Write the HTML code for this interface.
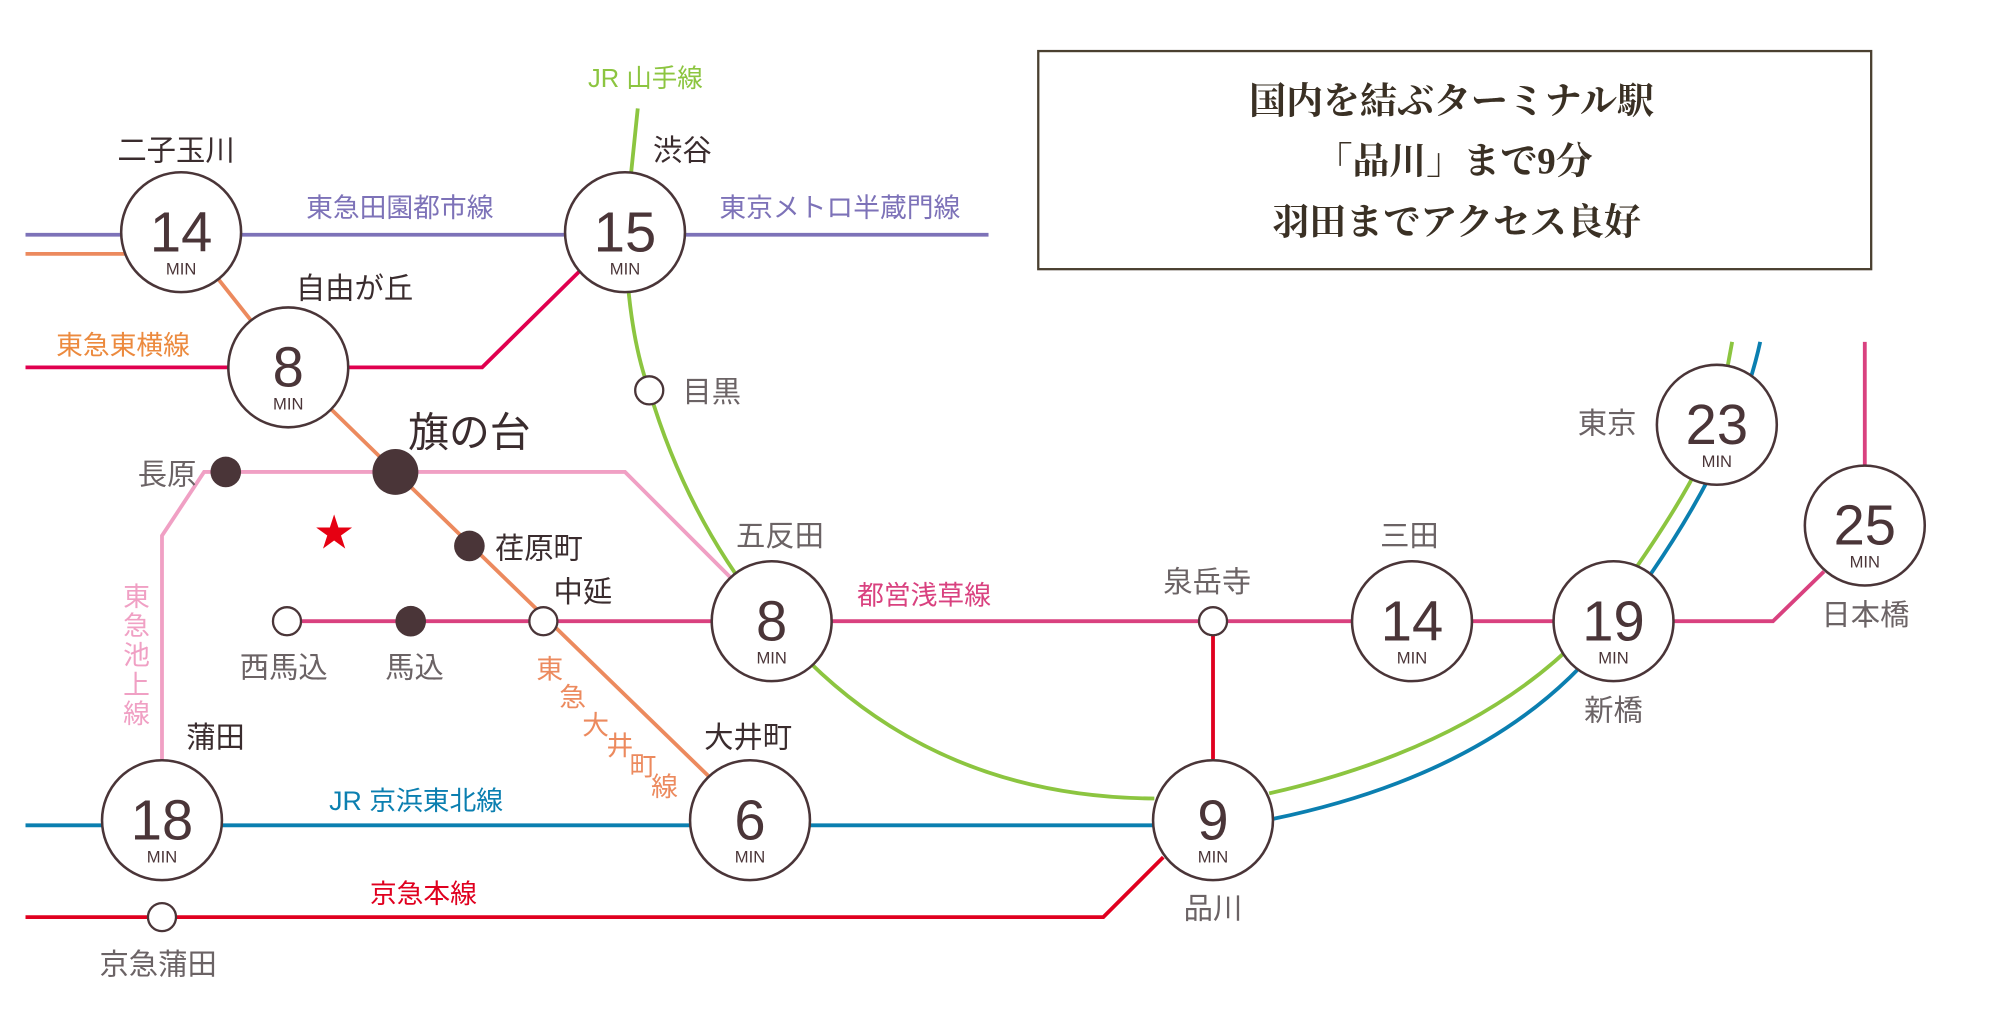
<!DOCTYPE html>
<html><head><meta charset="utf-8"><style>
html,body{margin:0;padding:0;background:#fff;}
svg{display:block;}
text{font-family:"Liberation Sans","Noto Sans CJK JP",sans-serif;}
.st{font-size:23px;fill:#6b6365;}
.sd{font-size:23px;fill:#3a2c2e;}
.num{font-size:44px;fill:#4a3538;text-anchor:middle;font-family:"Liberation Sans Narrow","Liberation Sans",sans-serif;}
.min{font-size:13px;fill:#4a3538;text-anchor:middle;}
.bc{fill:#fff;stroke:#4a3538;stroke-width:2;}
.oc{fill:#fff;stroke:#4a3538;stroke-width:1.8;}
.fc{fill:#4a3538;}
</style></head><body>
<svg width="2000" height="1034" viewBox="0 0 1568 810.6" xmlns="http://www.w3.org/2000/svg">
<g fill="none" stroke-width="3">
<path d="M20 184 H775" stroke="#7d72b8"/>
<path d="M20 199 H110" stroke="#ec8a5e"/>
<path d="M142 182 L226 288 L310 370 L588 640" stroke="#ec8a5e"/>
<path d="M20 288 H378 L455 212" stroke="#e0004f"/>
<path d="M500 85 L490 182 Q492 260 509 306 Q540 410 605 487 Q720 625 905 626" stroke="#8cc540"/>
<path d="M995 622 Q1180 580 1265 470 Q1330 380 1346 333 L1358 268" stroke="#8cc540"/>
<path d="M20 647 H952" stroke="#0b7fb0"/>
<path d="M998 642 Q1200 600 1280 470 Q1360 360 1380 268" stroke="#0b7fb0"/>
<path d="M225 487 H1390 L1430 448" stroke="#d9417f"/>
<path d="M1462 268 V365" stroke="#d9417f"/>
<path d="M20 719 H865 L912 672" stroke="#e0001f"/>
<path d="M951 487 V595" stroke="#e0001f"/>
<path d="M127 600 V420 L160 370 H490 L575 455" stroke="#f0a0c4"/>
</g>
<g>
<circle class="bc" cx="142" cy="182" r="47"/><text class="num" x="142" y="197">14</text><text class="min" x="142" y="215">MIN</text>
<circle class="bc" cx="490" cy="182" r="47"/><text class="num" x="490" y="197">15</text><text class="min" x="490" y="215">MIN</text>
<circle class="bc" cx="226" cy="288" r="47"/><text class="num" x="226" y="303">8</text><text class="min" x="226" y="321">MIN</text>
<circle class="bc" cx="605" cy="487" r="47"/><text class="num" x="605" y="502">8</text><text class="min" x="605" y="520">MIN</text>
<circle class="bc" cx="127" cy="643" r="47"/><text class="num" x="127" y="658">18</text><text class="min" x="127" y="676">MIN</text>
<circle class="bc" cx="588" cy="643" r="47"/><text class="num" x="588" y="658">6</text><text class="min" x="588" y="676">MIN</text>
<circle class="bc" cx="951" cy="643" r="47"/><text class="num" x="951" y="658">9</text><text class="min" x="951" y="676">MIN</text>
<circle class="bc" cx="1107" cy="487" r="47"/><text class="num" x="1107" y="502">14</text><text class="min" x="1107" y="520">MIN</text>
<circle class="bc" cx="1265" cy="487" r="47"/><text class="num" x="1265" y="502">19</text><text class="min" x="1265" y="520">MIN</text>
<circle class="bc" cx="1346" cy="333" r="47"/><text class="num" x="1346" y="348">23</text><text class="min" x="1346" y="366">MIN</text>
<circle class="bc" cx="1462" cy="412" r="47"/><text class="num" x="1462" y="427">25</text><text class="min" x="1462" y="445">MIN</text>
</g>
<circle class="oc" cx="509" cy="306" r="11"/>
<circle class="oc" cx="225" cy="487" r="11"/>
<circle class="oc" cx="426" cy="487" r="11"/>
<circle class="oc" cx="951" cy="487" r="11"/>
<circle class="oc" cx="127" cy="719" r="11"/>
<circle class="fc" cx="177" cy="370" r="12"/>
<circle class="fc" cx="310" cy="370" r="18"/>
<circle class="fc" cx="368" cy="428" r="12"/>
<circle class="fc" cx="322" cy="487" r="12"/>
<text x="262" y="428" font-size="30" fill="#e60012" text-anchor="middle">★</text>
<text class="sd" x="92" y="126">二子玉川</text>
<text class="sd" x="512" y="126">渋谷</text>
<text class="sd" x="232" y="234">自由が丘</text>
<text x="320" y="350" font-size="32" fill="#3a2c2e">旗の台</text>
<text class="st" x="108" y="380">長原</text>
<text class="sd" x="388" y="438">荏原町</text>
<text class="sd" x="434" y="472">中延</text>
<text class="st" x="188" y="531">西馬込</text>
<text class="st" x="302" y="531">馬込</text>
<text class="st" x="535" y="315">目黒</text>
<text class="st" x="577" y="428">五反田</text>
<text class="sd" x="146" y="586">蒲田</text>
<text class="sd" x="552" y="586">大井町</text>
<text class="st" x="928" y="720">品川</text>
<text class="st" x="78" y="764">京急蒲田</text>
<text class="st" x="912" y="464">泉岳寺</text>
<text class="st" x="1082" y="428">三田</text>
<text class="st" x="1237" y="340">東京</text>
<text class="st" x="1242" y="565">新橋</text>
<text class="st" x="1428" y="490">日本橋</text>
<text x="461" y="68" font-size="20" fill="#8cc540">JR 山手線</text>
<text x="240" y="170" font-size="21" fill="#7d72b8">東急田園都市線</text>
<text x="564" y="170" font-size="21" fill="#7d72b8">東京メトロ半蔵門線</text>
<text x="44" y="278" font-size="21" fill="#ec8a3e">東急東横線</text>
<text x="672" y="474" font-size="21" fill="#d9417f">都営浅草線</text>
<text x="258" y="635" font-size="21" fill="#0b7fb0">JR 京浜東北線</text>
<text x="290" y="708" font-size="21" fill="#e0001f">京急本線</text>
<g font-size="21" fill="#f0a0c4" text-anchor="middle">
<text x="107" y="475">東</text><text x="107" y="498">急</text><text x="107" y="521">池</text><text x="107" y="544">上</text><text x="107" y="567">線</text>
</g>
<g font-size="21" fill="#ec8a5e" text-anchor="middle">
<text x="431" y="532">東</text><text x="449" y="554">急</text><text x="467" y="576">大</text><text x="486" y="592">井</text><text x="504" y="608">町</text><text x="521" y="624">線</text>
</g>
<rect x="814" y="40" width="653" height="171" fill="#fff" stroke="#4a4030" stroke-width="1.8"/>
<g font-size="29" font-weight="bold" fill="#3a3024" text-anchor="middle">
<text x="1138" y="89" style="font-family:'Liberation Serif','Noto Serif CJK SC',serif">国内を結ぶターミナル駅</text>
<text x="1140" y="136" style="font-family:'Liberation Serif','Noto Serif CJK SC',serif">「品川」まで9分</text>
<text x="1142" y="184" style="font-family:'Liberation Serif','Noto Serif CJK SC',serif">羽田までアクセス良好</text>
</g>
</svg>
</body></html>
